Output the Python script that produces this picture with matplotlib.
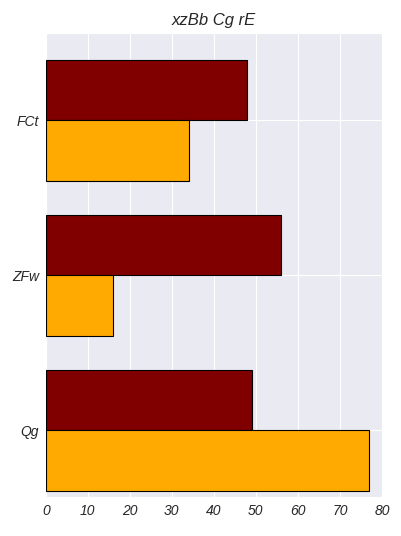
import numpy as np
import seaborn as sns
import matplotlib
matplotlib.use("Agg")
import matplotlib.pyplot as plt

categories = ["Qg", "ZFw", "FCt"]
series_dark = [49, 56, 48]
series_orange = [77, 16, 34]
x_ticks = [0, 10, 20, 30, 40, 50, 60, 70, 80]

sns.set_style("darkgrid")
plt.rcParams['font.family'] = ['Liberation Sans', 'DejaVu Sans']
plt.rcParams['font.style'] = 'italic'

fig = plt.figure(figsize=(4.02, 5.36), dpi=100)
ax = fig.add_axes([0.114, 0.073, 0.836, 0.865])

y = np.arange(len(categories))
h = 0.39
ax.barh(y + h / 2, series_dark, height=h, color="#800000", edgecolor="black", linewidth=0.8, zorder=3)
ax.barh(y - h / 2, series_orange, height=h, color="#FFAA00", edgecolor="black", linewidth=0.8, zorder=3)

ax.set_yticks(y)
ax.set_yticklabels(categories, fontsize=10, style='italic')
ax.set_xticks(x_ticks)
ax.set_xticklabels([str(t) for t in x_ticks], fontsize=10, style='italic')
ax.set_xlim(0, 80)
ax.set_ylim(-0.43, 2.56)
ax.tick_params(length=0, pad=5)
ax.set_title("xzBb Cg rE", fontsize=12, style='italic', pad=6)

fig.savefig("out.png", dpi=100)
